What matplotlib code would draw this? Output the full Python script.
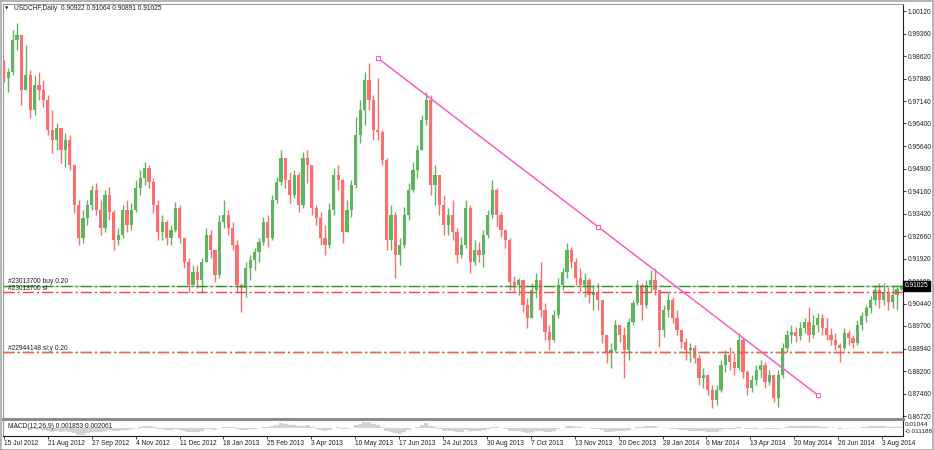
import numpy as np
import pandas as pd
import matplotlib
matplotlib.use("Agg")
import matplotlib.pyplot as plt
import matplotlib.transforms as mtransforms
from matplotlib.patches import Rectangle

plt.rcParams['font.family'] = ['Liberation Sans', 'DejaVu Sans']

title = "USDCHF,Daily  0.90922 0.91064 0.90891 0.91025"
macd_title = "MACD(12,26,9) 0.001853 0.002061"

# one candle = roughly 2-3 trading days
first_open = 0.9830
closes = [
    0.9790, 0.9810, 0.9916, 0.9933, 0.9751, 0.9800, 0.9684, 0.9767, 0.9751, 0.9718,
    0.9618, 0.9585, 0.9625, 0.9552, 0.9585, 0.9502, 0.9370, 0.9261, 0.9327, 0.9370,
    0.9420, 0.9354, 0.9294, 0.9403, 0.9347, 0.9254, 0.9271, 0.9354, 0.9304, 0.9354,
    0.9426, 0.9459, 0.9492, 0.9446, 0.9370, 0.9281, 0.9314, 0.9261, 0.9287, 0.9360,
    0.9261, 0.9182, 0.9105, 0.9148, 0.9122, 0.9182, 0.9271, 0.9221, 0.9138, 0.9314,
    0.9337, 0.9294, 0.9238, 0.9105, 0.9095, 0.9162, 0.9188, 0.9215, 0.9248, 0.9314,
    0.9261, 0.9387, 0.9446, 0.9526, 0.9453, 0.9403, 0.9469, 0.9370, 0.9526, 0.9502,
    0.9360, 0.9327, 0.9261, 0.9238, 0.9354, 0.9469, 0.9453, 0.9281, 0.9354, 0.9436,
    0.9602, 0.9684, 0.9784, 0.9718, 0.9618, 0.9612, 0.9519, 0.9254, 0.9337, 0.9205,
    0.9238, 0.9337, 0.9420, 0.9486, 0.9552, 0.9651, 0.9718, 0.9436, 0.9469, 0.9370,
    0.9304, 0.9337, 0.9281, 0.9205, 0.9238, 0.9360, 0.9182, 0.9221, 0.9205, 0.9271,
    0.9337, 0.9420, 0.9337, 0.9287, 0.9254, 0.9115, 0.9105, 0.9122, 0.9039, 0.8996,
    0.9089, 0.9122, 0.9023, 0.8950, 0.8923, 0.9006, 0.9105, 0.9148, 0.9221, 0.9182,
    0.9128, 0.9105, 0.9122, 0.9072, 0.9082, 0.9056, 0.8940, 0.8884, 0.8890, 0.8973,
    0.8940, 0.8890, 0.8983, 0.9046, 0.9105, 0.9039, 0.9105, 0.9122, 0.9089, 0.8957,
    0.9023, 0.9056, 0.8996, 0.8957, 0.8917, 0.8890, 0.8897, 0.8864, 0.8798, 0.8808,
    0.8758, 0.8725, 0.8758, 0.8841, 0.8874, 0.8851, 0.8831, 0.8923, 0.8818, 0.8765,
    0.8791, 0.8824, 0.8841, 0.8785, 0.8808, 0.8732, 0.8808, 0.8897, 0.8940, 0.8950,
    0.8937, 0.8963, 0.8983, 0.8940, 0.8973, 0.8996, 0.8963, 0.8940, 0.8923, 0.8907,
    0.8897, 0.8947, 0.8930, 0.8914, 0.8973, 0.9003, 0.9029, 0.9056, 0.9089, 0.9056,
    0.9082, 0.9049, 0.9072, 0.90922, 0.91025]
highs = [
    0.9850, 0.9823, 0.9949, 0.9972, 0.9933, 0.9900, 0.9817, 0.9800, 0.9810, 0.9784,
    0.9734, 0.9684, 0.9641, 0.9625, 0.9608, 0.9602, 0.9502, 0.9387, 0.9354, 0.9387,
    0.9436, 0.9443, 0.9387, 0.9420, 0.9430, 0.9354, 0.9294, 0.9370, 0.9387, 0.9377,
    0.9453, 0.9486, 0.9512, 0.9502, 0.9459, 0.9387, 0.9337, 0.9321, 0.9304, 0.9380,
    0.9370, 0.9261, 0.9195, 0.9172, 0.9172, 0.9195, 0.9294, 0.9287, 0.9221, 0.9337,
    0.9387, 0.9354, 0.9314, 0.9254, 0.9112, 0.9182, 0.9205, 0.9228, 0.9261, 0.9330,
    0.9337, 0.9403, 0.9463, 0.9552, 0.9526, 0.9479, 0.9486, 0.9479, 0.9545, 0.9552,
    0.9502, 0.9370, 0.9347, 0.9304, 0.9377, 0.9492, 0.9502, 0.9455, 0.9387, 0.9453,
    0.9661, 0.9718, 0.9810, 0.9840, 0.9734, 0.9790, 0.9618, 0.9526, 0.9370, 0.9347,
    0.9261, 0.9364, 0.9443, 0.9512, 0.9569, 0.9668, 0.9744, 0.9734, 0.9502, 0.9469,
    0.9403, 0.9360, 0.9387, 0.9294, 0.9264, 0.9387, 0.9370, 0.9254, 0.9248, 0.9287,
    0.9354, 0.9453, 0.9425, 0.9347, 0.9287, 0.9261, 0.9135, 0.9128, 0.9122, 0.9062,
    0.9112, 0.9145, 0.9182, 0.9046, 0.8973, 0.9023, 0.9128, 0.9162, 0.9244, 0.9231,
    0.9195, 0.9162, 0.9145, 0.9128, 0.9105, 0.9112, 0.9056, 0.8940, 0.8914, 0.8990,
    0.8973, 0.8966, 0.8996, 0.9056, 0.9122, 0.9112, 0.9122, 0.9155, 0.9162, 0.9089,
    0.9039, 0.9079, 0.9066, 0.9023, 0.8957, 0.8930, 0.8914, 0.8907, 0.8874, 0.8831,
    0.8808, 0.8775, 0.8775, 0.8857, 0.8890, 0.8900, 0.8880, 0.8947, 0.8930, 0.8824,
    0.8808, 0.8841, 0.8857, 0.8851, 0.8824, 0.8808, 0.8824, 0.8914, 0.8957, 0.8973,
    0.8966, 0.8983, 0.8996, 0.9033, 0.9006, 0.9013, 0.9010, 0.8996, 0.8963, 0.8947,
    0.8914, 0.8963, 0.8957, 0.8940, 0.8990, 0.9016, 0.9039, 0.9069, 0.9105, 0.9112,
    0.9112, 0.9099, 0.9105, 0.9099, 0.91064]
lows = [
    0.9777, 0.9744, 0.9800, 0.9883, 0.9701, 0.9751, 0.9658, 0.9668, 0.9718, 0.9694,
    0.9602, 0.9542, 0.9552, 0.9509, 0.9496, 0.9486, 0.9344, 0.9238, 0.9244, 0.9304,
    0.9354, 0.9337, 0.9271, 0.9281, 0.9321, 0.9221, 0.9238, 0.9261, 0.9281, 0.9287,
    0.9347, 0.9403, 0.9436, 0.9426, 0.9344, 0.9254, 0.9254, 0.9238, 0.9238, 0.9281,
    0.9244, 0.9162, 0.9082, 0.9105, 0.9095, 0.9079, 0.9182, 0.9195, 0.9115, 0.9128,
    0.9294, 0.9271, 0.9221, 0.9082, 0.9016, 0.9066, 0.9122, 0.9155, 0.9182, 0.9238,
    0.9231, 0.9254, 0.9377, 0.9436, 0.9426, 0.9377, 0.9393, 0.9347, 0.9360, 0.9443,
    0.9337, 0.9304, 0.9238, 0.9205, 0.9228, 0.9337, 0.9420, 0.9244, 0.9281, 0.9330,
    0.9426, 0.9575, 0.9635, 0.9684, 0.9585, 0.9585, 0.9502, 0.9221, 0.9221, 0.9128,
    0.9172, 0.9228, 0.9321, 0.9413, 0.9459, 0.9552, 0.9635, 0.9403, 0.9370, 0.9337,
    0.9271, 0.9271, 0.9254, 0.9178, 0.9195, 0.9228, 0.9145, 0.9172, 0.9182, 0.9165,
    0.9261, 0.9327, 0.9297, 0.9264, 0.9228, 0.9089, 0.9082, 0.9072, 0.9016, 0.8963,
    0.8996, 0.9062, 0.8999, 0.8923, 0.8890, 0.8917, 0.8996, 0.9089, 0.9128, 0.9162,
    0.9105, 0.9082, 0.9066, 0.9046, 0.9023, 0.9023, 0.8914, 0.8847, 0.8831, 0.8884,
    0.8917, 0.8798, 0.8857, 0.8973, 0.9039, 0.8990, 0.9029, 0.9082, 0.9072, 0.8900,
    0.8933, 0.8999, 0.8980, 0.8940, 0.8897, 0.8857, 0.8851, 0.8847, 0.8775, 0.8765,
    0.8742, 0.8698, 0.8708, 0.8751, 0.8818, 0.8824, 0.8808, 0.8824, 0.8798, 0.8742,
    0.8751, 0.8775, 0.8798, 0.8765, 0.8775, 0.8718, 0.8702, 0.8798, 0.8884, 0.8914,
    0.8917, 0.8923, 0.8947, 0.8917, 0.8930, 0.8950, 0.8940, 0.8923, 0.8907, 0.8890,
    0.8851, 0.8890, 0.8907, 0.8897, 0.8907, 0.8957, 0.8983, 0.9013, 0.9039, 0.9029,
    0.9039, 0.9023, 0.9029, 0.9023, 0.90891]

date_labels = ["15 Jul 2012", "21 Aug 2012", "27 Sep 2012", "4 Nov 2012", "11 Dec 2012",
               "18 Jan 2013", "25 Feb 2013", "3 Apr 2013", "10 May 2013", "17 Jun 2013",
               "24 Jul 2013", "30 Aug 2013", "7 Oct 2013", "13 Nov 2013", "20 Dec 2013",
               "28 Jan 2014", "6 Mar 2014", "13 Apr 2014", "20 May 2014", "26 Jun 2014",
               "3 Aug 2014"]
price_ticks = [1.00120, 0.99360, 0.98620, 0.97880, 0.97140, 0.96400, 0.95640, 0.94900,
               0.94160, 0.93420, 0.92660, 0.91920, 0.91180, 0.90440, 0.89700, 0.88940,
               0.88200, 0.87460, 0.86720]

bid = 0.91025
buy_level = 0.9103
sl_level = 0.9082
low_order_level = 0.8883
trend_bars = [85, 185]
trend_prices = [0.9856, 0.8741]

GREEN = '#5fb55f'
RED = '#fa7070'
PINK = '#ff5cbf'

c = np.array(closes)
h = np.array(highs)
l = np.array(lows)
o = np.r_[first_open, c[:-1]]
x = np.arange(len(c))
col = np.where(c >= o, GREEN, RED)

W, H = 934, 450
fig = plt.figure(figsize=(W / 100, H / 100), dpi=100)
fig.patch.set_facecolor('white')

ax = fig.add_axes([3 / W, 31 / H, 900 / W, 415 / H])
ax_m = fig.add_axes([3 / W, 14 / H, 900 / W, 15 / H])

xlo = -0.2
ax.set_xlim(xlo, xlo + 900 / 4.4)
ax.set_ylim(0.86621, 1.00352)

# candles
ax.vlines(x, l, h, colors=col, lw=1.0, zorder=3)
body = np.maximum(np.abs(c - o), 0.00025)
ax.bar(x, body, bottom=np.minimum(o, c), width=0.72, color=col, lw=0, zorder=3)

# order / price lines
dashdot = (0, (8, 2.2, 1.5, 2.2))
ax.axhline(bid, color='#c4c4c4', lw=1.0, zorder=2)
ax.axhline(buy_level, color='#2f962f', lw=1.0, ls=dashdot, zorder=4)
ax.axhline(sl_level, color='#ff3b3b', lw=1.0, ls=dashdot, zorder=4)
ax.axhline(low_order_level, color='#2f962f', lw=1.0, ls=dashdot, zorder=4)
ax.axhline(low_order_level, color='#ff5a5a', lw=1.0, ls=dashdot, zorder=4)

lbl = dict(fontsize=4.8, color='#202020', ha='left', va='bottom', zorder=6,
           transform=mtransforms.blended_transform_factory(ax.transAxes, ax.transData))
ax.text(0.006, buy_level + 0.0001, "#23013700 buy 0.20", **lbl)
ax.text(0.006, sl_level + 0.0001, "#23013700 sl", **lbl)
# buy and sl labels of this order sit on the same line in the terminal
ax.text(0.006, low_order_level + 0.0001, "#22944148 sl;y 0.20", **lbl)

# trend line
tb = np.array(trend_bars, dtype=float)
tp = np.array(trend_prices)
ax.plot(tb, tp, color=PINK, lw=1.1, zorder=5)
ax.plot([tb[0], tb.mean(), tb[1]], [tp[0], tp.mean(), tp[1]], ls='none', marker='s',
        ms=3, mfc='white', mec=PINK, mew=0.8, zorder=6)

# price axis
ax.yaxis.tick_right()
ax.set_yticks(price_ticks)
ax.set_yticklabels([f"{p:.5f}" for p in price_ticks])
ax.tick_params(axis='y', labelsize=4.8, length=2, width=0.6, pad=1.5, colors='#202020')
ax.set_xticks([])
for s in ['left', 'top']:
    ax.spines[s].set_color('#9a9a9a')
ax.spines['right'].set_color('#202020')
ax.spines['right'].set_linewidth(0.8)
ax.spines['bottom'].set_color('#8c8c8c')
ax.spines['bottom'].set_linewidth(2.2)

ax.text(1.002, bid, "0.91025", fontsize=4.8, color='white', ha='left', va='center', zorder=7,
        transform=mtransforms.blended_transform_factory(ax.transAxes, ax.transData),
        bbox=dict(boxstyle='square,pad=0.2', fc='black', ec='black'), clip_on=False)

# MACD panel
cs = pd.Series(c)
macd = cs.ewm(span=4.5, adjust=False).mean() - cs.ewm(span=9.6, adjust=False).mean()
signal = macd.rolling(3, min_periods=1).mean()
ax_m.bar(x, macd, width=1.0, color='#d2d2d2', lw=0)
ax_m.plot(x, signal, color='#d8d8d8', lw=0.6, ls=':')
ax_m.set_xlim(ax.get_xlim())
ax_m.set_ylim(-0.0125, 0.0115)
ax_m.set_yticks([])
ax_m.spines['top'].set_visible(False)
ax_m.spines['left'].set_color('#9a9a9a')
ax_m.spines['right'].set_color('#202020')
ax_m.spines['bottom'].set_color('#202020')
ax_m.spines['right'].set_linewidth(0.8)
ax_m.spines['bottom'].set_linewidth(0.8)
ax_m.text(0.006, 0.6, macd_title, transform=ax_m.transAxes, fontsize=4.8, color='#202020',
          ha='left', va='center')
ax_m.text(1.002, 0.8, "0.01044", transform=ax_m.transAxes, fontsize=4.6, color='#202020',
          ha='left', va='center', clip_on=False)
ax_m.text(1.002, 0.3, "-0.011188", transform=ax_m.transAxes, fontsize=4.6, color='#202020',
          ha='left', va='center', clip_on=False)

tick_pos = np.arange(len(date_labels)) * 9.98
ax_m.set_xticks(tick_pos)
ax_m.set_xticklabels(date_labels, ha='left')
ax_m.tick_params(axis='x', labelsize=4.8, length=2, width=0.6, pad=0.6, colors='#202020')

# title and window frame
fig.text(14 / W, 1 - 8 / H, title, fontsize=4.8, color='#202020', ha='left', va='center')
fig.text(7 / W, 1 - 8.5 / H, '\u25bc', fontsize=3.2, color='#202020', ha='center', va='center',
         family='DejaVu Sans')
fig.patches.append(Rectangle((0.5 / W, 0.5 / H), (W - 1.5) / W, (H - 1.5) / H, fill=False,
                             ec='#a8a8a8', lw=1.2, transform=fig.transFigure))

fig.savefig("out.png", dpi=100)
